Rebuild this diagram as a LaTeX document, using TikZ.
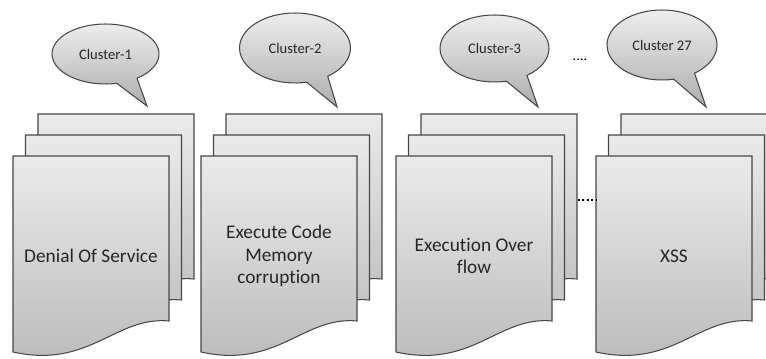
\documentclass[tikz,border=0pt]{standalone}
\usepackage{fontspec}
\setmainfont[Ligatures=NoCommon]{Carlito}
\usetikzlibrary{shapes.callouts}

\tikzset{
	page/.style={draw=black!72, line width=0.6pt, top color=black!8, bottom color=black!27},
	bubble/.style={ellipse callout, draw=black!72, line width=0.6pt, top color=black!7, bottom color=black!32,
		inner sep=0pt, callout pointer arc=24, text=black!85, font=\fontsize{8.3}{10}\selectfont},
	label/.style={align=center, text=black!85, font=\fontsize{11}{12.7}\selectfont}
}
% one sheet, top left corner at (#1,#2)
\newcommand{\Sheet}[2]{%
	\begin{scope}[shift={(#1,#2)}]
		\draw[page] (0,0) -- (156,0) -- (156,165)
			.. controls (102,160) and (77,213) .. (0,196) -- cycle;
	\end{scope}}

\begin{document}
\begin{tikzpicture}[x=0.02cm, y=-0.02cm]
	\clip (0,0) rectangle (766,358);
	
	% stacks of sheets
	\foreach \x in {13,201,396,596} {
		\Sheet{\x+25}{114}
		\Sheet{\x+12.5}{135}
		\Sheet{\x}{156}
	}
	
	\node[label] (d1) at (91,256) {Denial Of Service};
	\node[label] (d2) at (279,256) {Execute Code\\Memory\\corruption};
	\node[label] (d3) at (474,256) {Execution Over\\flow};
	\node[label] (d4) at (674,256) {XSS};
	
	\coordinate (t1) at (147,106);
	\coordinate (t2) at (337,107);
	\coordinate (t3) at (538,107);
	\coordinate (t4) at (706,107);
	
	\node[bubble, minimum width=2.14cm, minimum height=1.2cm, callout absolute pointer={(t1)}] (c1) at (105.5,54) {Cluster-1};
	\node[bubble, minimum width=2.22cm, minimum height=1.4cm, callout absolute pointer={(t2)}] (c2) at (295,48) {Cluster-2};
	\node[bubble, minimum width=2.18cm, minimum height=1.34cm, callout absolute pointer={(t3)}] (c3) at (494.5,48.5) {Cluster-3};
	\node[bubble, minimum width=2.2cm, minimum height=1.4cm, callout absolute pointer={(t4)}] (c4) at (662,45) {Cluster 27};
	
	\node[font=\fontsize{8.3}{10}\selectfont] (dots) at (580,60) {....};
	
	\coordinate (g3) at (578,200);
	\coordinate (g4) at (596,200);
	\draw[line width=1.1pt, dash pattern=on 1.1pt off 1.4pt] (g3) -- (g4);
\end{tikzpicture}
\end{document}
